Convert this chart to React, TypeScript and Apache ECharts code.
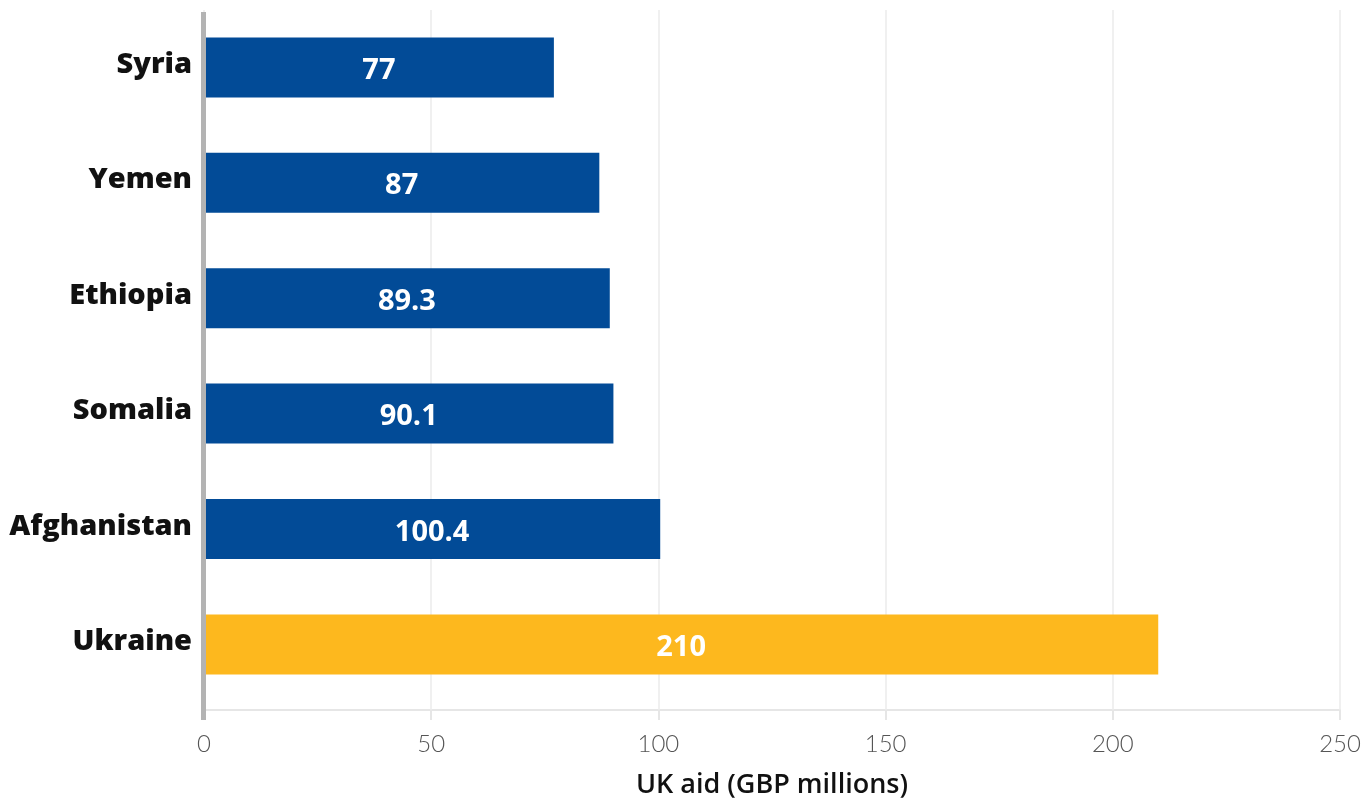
import React, { useEffect, useRef } from "react";
import * as echarts from "echarts";

const countries = ["Syria", "Yemen", "Ethiopia", "Somalia", "Afghanistan", "Ukraine"];
const aidValues = [77, 87, 89.3, 90.1, 100.4, 210];
const barColors = ["#024B97", "#024B97", "#024B97", "#024B97", "#024B97", "#FDB81E"];
const xTicks = { min: 0, max: 250, interval: 50 };
const xAxisTitle = "UK aid (GBP millions)";

export default function App() {
  const ref = useRef<HTMLDivElement>(null);
  useEffect(() => {
    if (!ref.current) return;
    const chart = echarts.init(ref.current, undefined, { renderer: "svg" });
    const thin = "Lato, 'Open Sans', sans-serif";
    const heavy = "'Open Sans', Lato, sans-serif";
    chart.setOption({
      animation: false,
      grid: { left: 204, right: 23, top: 9.7, bottom: 97.9, containLabel: false, outerBoundsMode: "none" },
      xAxis: [
        {
          type: "value",
          position: "bottom",
          offset: 8,
          min: xTicks.min,
          max: xTicks.max,
          interval: xTicks.interval,
          axisLine: { show: true, lineStyle: { color: "#e6e6e6", width: 2 } },
          axisTick: { show: true, length: 10, lineStyle: { color: "#e6e6e6", width: 2 } },
          splitLine: { show: false },
          axisLabel: { color: "#555", fontFamily: thin, fontSize: 24, fontWeight: 300, margin: 20 },
          name: xAxisTitle,
          nameLocation: "middle",
          nameGap: 59,
          nameTextStyle: { color: "#111", fontFamily: heavy, fontSize: 27, fontWeight: 600 },
        },
        {
          type: "value",
          position: "bottom",
          offset: 8,
          min: xTicks.min,
          max: xTicks.max,
          interval: xTicks.interval,
          axisLine: { show: false },
          axisTick: { show: true, inside: true, length: 700, lineStyle: { color: "#ebebeb", width: 1.5 } },
          splitLine: { show: false },
          axisLabel: { show: false },
        },
      ],
      yAxis: {
        type: "category",
        data: countries,
        inverse: true,
        axisLine: { show: false },
        axisTick: { show: false },
        axisLabel: {
          color: "#111",
          fontFamily: heavy,
          fontSize: 29,
          fontWeight: 800,
          margin: 12,
          verticalAlign: "bottom",
          lineHeight: 12,
        },
      },
      graphic: [
        { type: "rect", z: 100, shape: { x: 201, y: 12, width: 5, height: 708 }, style: { fill: "#b3b3b3" } },
      ],
      series: [
        {
          type: "bar",
          xAxisIndex: 0,
          barWidth: "52%",
          data: aidValues.map((v, i) => ({ value: v, itemStyle: { color: barColors[i] } })),
          label: {
            show: true,
            position: "inside",
            color: "#fff",
            fontFamily: heavy,
            fontSize: 29,
            fontWeight: "bold",
          },
        },
      ],
    });
    return () => chart.dispose();
  }, []);
  return <div ref={ref} style={{ position: "fixed", left: 0, top: 0, width: 1363, height: 800 }} />;
}
